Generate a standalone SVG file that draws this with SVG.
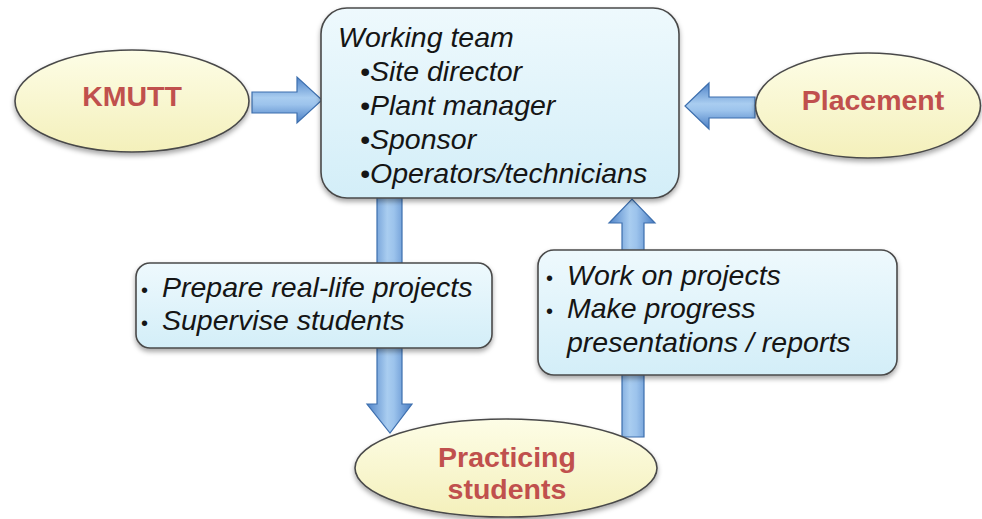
<svg xmlns="http://www.w3.org/2000/svg" width="982" height="519" viewBox="0 0 982 519">
  <defs>
    <linearGradient id="boxFill" x1="0" y1="0" x2="0" y2="1">
      <stop offset="0" stop-color="#eef9fd"/>
      <stop offset="1" stop-color="#d3eef8"/>
    </linearGradient>
    <linearGradient id="ovalFill" x1="0" y1="0" x2="0" y2="1">
      <stop offset="0" stop-color="#fdfde6"/>
      <stop offset="1" stop-color="#f4f0bb"/>
    </linearGradient>
    <linearGradient id="arrowV" x1="0" y1="0" x2="1" y2="0">
      <stop offset="0" stop-color="#4f83c8"/>
      <stop offset="0.45" stop-color="#a9cdf0"/>
      <stop offset="0.6" stop-color="#9cc3ec"/>
      <stop offset="1" stop-color="#4a7ec4"/>
    </linearGradient>
    <linearGradient id="arrowH" x1="0" y1="0" x2="0" y2="1">
      <stop offset="0" stop-color="#4f83c8"/>
      <stop offset="0.45" stop-color="#a9cdf0"/>
      <stop offset="0.6" stop-color="#9cc3ec"/>
      <stop offset="1" stop-color="#4a7ec4"/>
    </linearGradient>
    <filter id="shadow" x="-10%" y="-10%" width="120%" height="130%">
      <feDropShadow dx="0" dy="3" stdDeviation="2.5" flood-color="#000" flood-opacity="0.35"/>
    </filter>
  </defs>
  <style>
    .box { fill: url(#boxFill); stroke: #4a4a4a; stroke-width: 1.6; filter: url(#shadow); }
    .oval { fill: url(#ovalFill); stroke: #4a4a4a; stroke-width: 1.6; filter: url(#shadow); }
    .item { font-family: "Liberation Sans", Arial, sans-serif; font-style: italic; font-size: 28.5px; fill: #151515; }
    .dot { font-size: 20px; font-style: normal; }
    .label { font-family: "Liberation Sans", Arial, sans-serif; font-weight: bold; font-size: 28.5px; fill: #c0504d; text-anchor: middle; }
    .arr-v { fill: url(#arrowV); stroke: #3d6fae; stroke-width: 1.2; stroke-linejoin: miter; }
    .arr-h { fill: url(#arrowH); stroke: #3d6fae; stroke-width: 1.2; stroke-linejoin: miter; }
  </style>

  <rect width="982" height="519" fill="#ffffff"/>

  <!-- block arrows between the nodes -->
  <g id="connectors">
    <!-- KMUTT to working team -->
    <path class="arr-h" d="M252,92 H297 V77 L322,100 L297,123 V113 H252 Z"/>
    <!-- placement to working team -->
    <path class="arr-h" d="M755,97 H709 V83 L685,106 L709,129 V118 H755 Z"/>
    <!-- working team down to students -->
    <path class="arr-v" d="M377,197 H402 V404 H412 L390,433 L367,404 H377 Z"/>
    <!-- students up to working team -->
    <path class="arr-v" d="M622,437 V223 H609 L632,199 L655,223 H644 V437 Z"/>
  </g>

  <g id="kmutt">
    <ellipse class="oval" cx="132" cy="101" rx="117" ry="51"/>
    <text class="label" x="132" y="106">KMUTT</text>
  </g>

  <g id="placement">
    <ellipse class="oval" cx="868" cy="105.5" rx="112.5" ry="52.5"/>
    <text class="label" x="873" y="110">Placement</text>
  </g>

  <g id="working-team">
    <rect class="box" x="321" y="8" width="358" height="190" rx="26" ry="26"/>
    <text class="item" x="338" y="47">Working team</text>
    <text class="item" x="360" y="81">•Site director</text>
    <text class="item" x="360" y="115">•Plant manager</text>
    <text class="item" x="360" y="149">•Sponsor</text>
    <text class="item" x="360" y="183">•Operators/technicians</text>
  </g>

  <g id="company-tasks">
    <rect class="box" x="136" y="263" width="356" height="85" rx="14" ry="14"/>
    <text class="item" x="141" y="297"><tspan class="dot">•</tspan><tspan x="162">Prepare real-life projects</tspan></text>
    <text class="item" x="141" y="330"><tspan class="dot">•</tspan><tspan x="162">Supervise students</tspan></text>
  </g>

  <g id="student-tasks">
    <rect class="box" x="538" y="250" width="359" height="125" rx="16" ry="16"/>
    <text class="item" x="546" y="285"><tspan class="dot">•</tspan><tspan x="567">Work on projects</tspan></text>
    <text class="item" x="546" y="318"><tspan class="dot">•</tspan><tspan x="567">Make progress</tspan></text>
    <text class="item" x="567" y="352">presentations / reports</text>
  </g>

  <g id="practicing-students">
    <ellipse class="oval" cx="506" cy="468" rx="151" ry="49"/>
    <text class="label" x="507" y="467">Practicing</text>
    <text class="label" x="507" y="499">students</text>
  </g>
</svg>
